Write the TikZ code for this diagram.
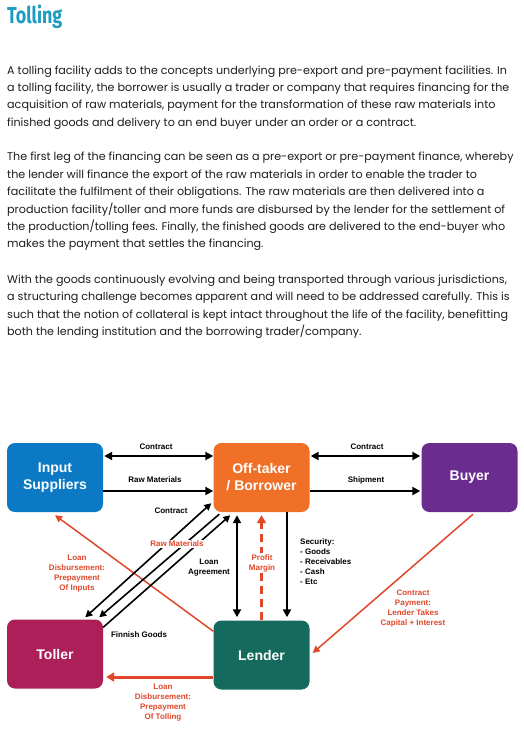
\documentclass[tikz,border=0pt]{standalone}
\usepackage{fontspec}
\usepackage{graphicx}
\setmainfont{Poppins}
\newfontfamily\labfont{Liberation Sans}
\newfontfamily\titlefont{Fira Sans}
\usetikzlibrary{arrows.meta,calc}
\definecolor{titleblue}{HTML}{1D9BC2}
\definecolor{supblue}{HTML}{0B79C3}
\definecolor{offorange}{HTML}{F07027}
\definecolor{buypurple}{HTML}{6A2C8F}
\definecolor{tolmag}{HTML}{AC1F58}
\definecolor{lenteal}{HTML}{146A5D}
\definecolor{redarrow}{HTML}{E0482A}
\definecolor{bodytext}{HTML}{1E1E1E}
\tikzset{
  party/.style={rounded corners=8pt, minimum width=96pt, minimum height=69pt, inner sep=0pt,
    text=white, align=center, font=\labfont\bfseries\fontsize{14pt}{17pt}\selectfont},
  bodyline/.style={anchor=base west, inner sep=0pt, text=bodytext, font=\fontsize{11.15pt}{17pt}\selectfont},
  lab/.style={inner sep=0pt, align=center, font=\labfont\bfseries\fontsize{8pt}{10pt}\selectfont, text=black},
  rlab/.style={lab, text=redarrow},
  blk/.style={draw=black, line width=2pt, -{Triangle[length=8pt,width=8pt]}},
  blkd/.style={draw=black, line width=2pt, {Triangle[length=8pt,width=8pt]}-{Triangle[length=8pt,width=8pt]}},
  thin/.style={draw=black, line width=1.6pt, -{Triangle[length=7pt,width=7pt]}},
  thind/.style={draw=black, line width=1.6pt, {Triangle[length=7pt,width=7pt]}-{Triangle[length=7pt,width=7pt]}},
  red/.style={draw=redarrow, line width=1.5pt, -{Triangle[length=7pt,width=7pt]}},
}
\begin{document}
\begin{tikzpicture}[x=1pt,y=-1pt]
\useasboundingbox (0,0) rectangle (523,732);
\fill[white] (0,0) rectangle (523,732);
% title
\node[anchor=base west, inner sep=0pt, text=titleblue] (title) at (7,23.3)
  {\scalebox{0.78}[1]{\titlefont\bfseries\fontsize{23pt}{23pt}\selectfont Tolling}};
% paragraphs
\node[bodyline] (l1) at (7,74.5) {A tolling facility adds to the concepts underlying pre-export and pre-payment facilities. In};
\node[bodyline] (l2) at (7,91.7) {a tolling facility, the borrower is usually a trader or company that requires financing for the};
\node[bodyline] (l3) at (7,108.9) {acquisition of raw materials, payment for the transformation of these raw materials into};
\node[bodyline] (l4) at (7,126.1) {finished goods and delivery to an end buyer under an order or a contract.};
\node[bodyline] (l5) at (7,160.8) {The first leg of the financing can be seen as a pre-export or pre-payment finance, whereby};
\node[bodyline] (l6) at (7,178.2) {the lender will finance the export of the raw materials in order to enable the trader to};
\node[bodyline] (l7) at (7,195.6) {facilitate the fulfilment of their obligations. The raw materials are then delivered into a};
\node[bodyline] (l8) at (7,213.0) {production facility/toller and more funds are disbursed by the lender for the settlement of};
\node[bodyline] (l9) at (7,230.4) {the production/tolling fees. Finally, the finished goods are delivered to the end-buyer who};
\node[bodyline] (l10) at (7,247.8) {makes the payment that settles the financing.};
\node[bodyline] (l11) at (7,283.5) {With the goods continuously evolving and being transported through various jurisdictions,};
\node[bodyline] (l12) at (7,300.9) {a structuring challenge becomes apparent and will need to be addressed carefully. This is};
\node[bodyline] (l13) at (7,318.3) {such that the notion of collateral is kept intact throughout the life of the facility, benefitting};
\node[bodyline] (l14) at (7,335.7) {both the lending institution and the borrowing trader/company.};
% parties
\node[party, fill=supblue] (sup) at (55,477.5) {Input\\Suppliers};
\node[party, fill=offorange] (off) at (261.5,477.5) {Off-taker\\/ Borrower};
\node[party, fill=buypurple] (buy) at (469.5,477.5) {Buyer};
\node[party, fill=tolmag] (tol) at (55,654) {Toller};
\node[party, fill=lenteal] (len) at (261.5,655) {Lender};
% horizontal arrows
\draw[blkd] ([xshift=1pt,yshift=21.5pt]sup.east) -- ([yshift=21.5pt]off.west);
\draw[blk] ([yshift=-13.5pt]sup.east) -- ([yshift=-13.5pt]off.west);
\draw[blkd] ([xshift=1pt,yshift=21.5pt]off.east) -- ([xshift=-1pt,yshift=21.5pt]buy.west);
\draw[blk] ([yshift=-13.5pt]off.east) -- ([xshift=-1pt,yshift=-13.5pt]buy.west);
\node[lab] (lc1) at (156,447) {Contract};
\node[lab] (lrm1) at (155,480) {Raw Materials};
\node[lab] (lc2) at (367,447) {Contract};
\node[lab] (lsh) at (366,480) {Shipment};
% red arrow lender -> suppliers (drawn first, under the black lines)
\draw[red] ($(len.north west)+(0,11)$) -- ($(sup.south)+(0,3)$);
% diagonal arrows toller <-> off-taker
\coordinate (a1) at ($(tol.north east)+(-18,-2)$);
\coordinate (a2) at ($(off.south west)+(-2,-9)$);
\draw[thind] (a1) -- (a2);
\coordinate (b1) at ($(off.south west)+(6,2)$);
\coordinate (b2) at ($(tol.north east)+(-4,-2)$);
\draw[thin] (b1) -- (b2);
\coordinate (c1) at ($(tol.north east)+(0,8)$);
\coordinate (c2) at ($(off.south west)+(17,3)$);
\draw[thin] (c1) -- (c2);
\node[lab] (lc3) at (171,511) {Contract};
\node[rlab, fill=white, inner sep=1.5pt] (lrm2) at (177,544) {Raw Materials};
\node[lab] (lfg) at (139,635) {Finnish Goods};
% vertical arrows
\draw[blkd] ([xshift=-24.5pt,yshift=-3pt]off.south) -- ([xshift=-24.5pt,yshift=3pt]len.north);
\draw[draw=redarrow, line width=2.6pt, dash pattern=on 8pt off 5pt, -{Triangle[length=8pt,width=9pt]}]
  (len.north) -- ([yshift=-3pt]off.south);
\draw[blk] ([xshift=25.5pt]off.south) -- ([xshift=25.5pt,yshift=3pt]len.north);
\node[lab] (lla) at (209,567.5) {Loan\\Agreement};
\node[rlab, fill=white, inner sep=1.5pt] (lpm) at (262,563) {Profit\\Margin};
\node[lab, align=left, anchor=north west] (lsec) at (300,538) {Security:\\- Goods\\- Receivables\\- Cash\\- Etc};
% labels and remaining red arrows
\node[rlab] (lldi) at (77,573.5) {Loan\\Disbursement:\\Prepayment\\Of Inputs};
\draw[red] ($(buy.south)+(3.5,2)$) -- ($(len.east)+(3,-2)$);
\node[rlab] (lcp) at (413,609) {Contract\\Payment:\\Lender Takes\\Capital + Interest};
\draw[draw=redarrow, line width=3pt, -{Triangle[length=8pt,width=9pt]}] ([yshift=-22pt]len.west) -- ([xshift=3pt,yshift=-23pt]tol.east);
\node[rlab] (lldt) at (163,703) {Loan\\Disbursement:\\Prepayment\\Of Tolling};
\end{tikzpicture}
\end{document}
